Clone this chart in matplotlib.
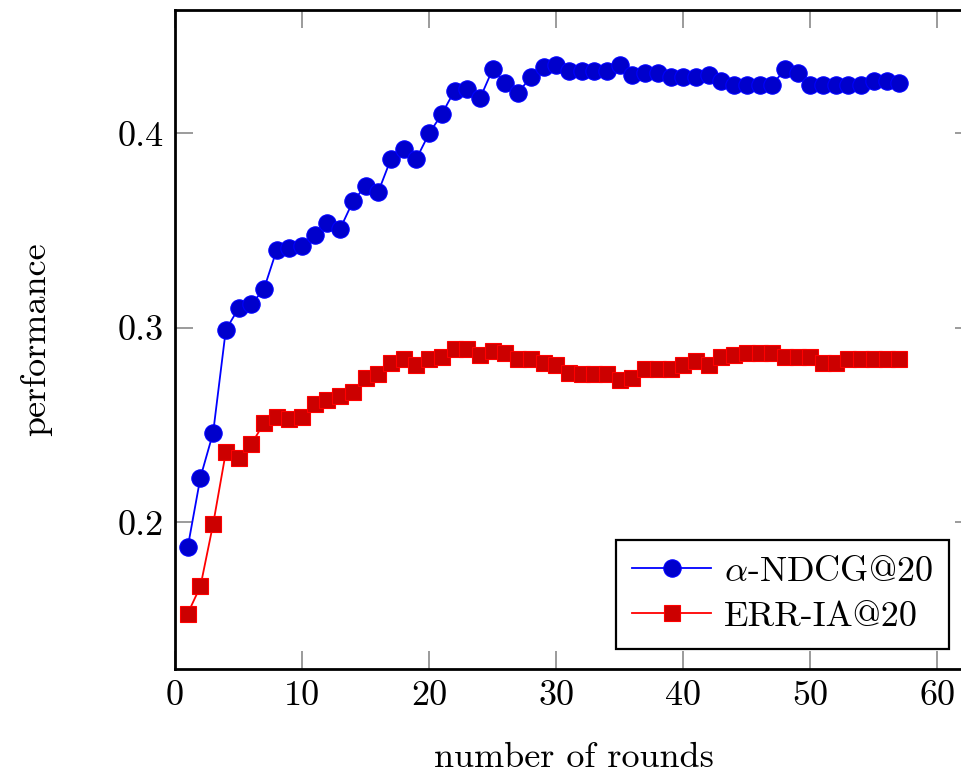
from __future__ import annotations

import matplotlib

matplotlib.use("Agg")
import matplotlib.pyplot as plt

rounds = list(range(1, 58))

ndcg = [
    0.187, 0.223, 0.246, 0.299, 0.310, 0.312, 0.320, 0.340, 0.341, 0.342,
    0.348, 0.354, 0.351, 0.365, 0.373, 0.370, 0.387, 0.392, 0.387, 0.400,
    0.410, 0.422, 0.423, 0.418, 0.433, 0.426, 0.421, 0.429, 0.434, 0.435,
    0.432, 0.432, 0.432, 0.432, 0.435, 0.430, 0.431, 0.431, 0.429, 0.429,
    0.429, 0.430, 0.427, 0.425, 0.425, 0.425, 0.425, 0.433, 0.431, 0.425,
    0.425, 0.425, 0.425, 0.425, 0.427, 0.427, 0.426,
]

err_ia = [
    0.153, 0.167, 0.199, 0.236, 0.233, 0.240, 0.251, 0.254, 0.253, 0.254,
    0.261, 0.263, 0.265, 0.267, 0.274, 0.276, 0.282, 0.284, 0.281, 0.284,
    0.285, 0.289, 0.289, 0.286, 0.288, 0.287, 0.284, 0.284, 0.282, 0.281,
    0.277, 0.276, 0.276, 0.276, 0.273, 0.274, 0.279, 0.279, 0.279, 0.281,
    0.283, 0.281, 0.285, 0.286, 0.287, 0.287, 0.287, 0.285, 0.285, 0.285,
    0.282, 0.282, 0.284, 0.284, 0.284, 0.284, 0.284,
]

x_ticks = [0, 10, 20, 30, 40, 50, 60]
y_ticks = [0.2, 0.3, 0.4]


def _apply_style() -> None:
    plt.rcParams.update(
        {
            "font.family": ["cmr10", "DejaVu Serif"],
            "mathtext.fontset": "cm",
            "axes.formatter.use_mathtext": True,
            "font.size": 26,
            "axes.linewidth": 2.0,
            "xtick.direction": "in",
            "ytick.direction": "in",
            "xtick.top": True,
            "ytick.right": True,
            "xtick.color": "#808080",
            "ytick.color": "#808080",
            "xtick.labelcolor": "black",
            "ytick.labelcolor": "black",
            "xtick.major.size": 13,
            "ytick.major.size": 13,
            "xtick.major.width": 1.1,
            "ytick.major.width": 1.1,
            "xtick.major.pad": 8,
            "ytick.major.pad": 8,
        }
    )


def main() -> None:
    _apply_style()
    fig = plt.figure(figsize=(9.61, 7.75), dpi=100)
    ax = fig.add_axes([0.1821, 0.1368, 0.8304, 0.8503])

    ax.plot(
        rounds, ndcg, color="#0000ff", linewidth=1.3,
        marker="o", markersize=12.5, markerfacecolor="#0000cc",
        markeredgecolor="#0000ff", markeredgewidth=0.8,
        label=r"$\alpha$-NDCG@20",
    )
    ax.plot(
        rounds, err_ia, color="#ff0000", linewidth=1.3,
        marker="s", markersize=11, markerfacecolor="#cc0000",
        markeredgecolor="#ff0000", markeredgewidth=0.8,
        label="ERR-IA@20",
    )

    ax.set_xlim(0, 62.8)
    ax.set_ylim(0.1245, 0.4635)
    ax.set_xticks(x_ticks)
    ax.set_yticks(y_ticks)
    ax.set_xticklabels([str(t) for t in x_ticks])
    ax.set_yticklabels([f"{t:.1f}" for t in y_ticks])

    ax.set_xlabel("number of rounds")
    ax.set_ylabel("performance")
    ax.xaxis.set_label_coords(0.5, -0.111)
    ax.yaxis.set_label_coords(-0.154, 0.5)

    leg = ax.legend(
        loc="lower right", bbox_to_anchor=(0.97, 0.03), frameon=True,
        fancybox=False, framealpha=1, edgecolor="black",
        handlelength=2.2, handletextpad=0.35, borderpad=0.45,
        labelspacing=0.35, borderaxespad=0,
    )
    leg.get_frame().set_linewidth(1.6)

    fig.savefig("out.png", dpi=100)
    plt.close(fig)


if __name__ == "__main__":
    main()
